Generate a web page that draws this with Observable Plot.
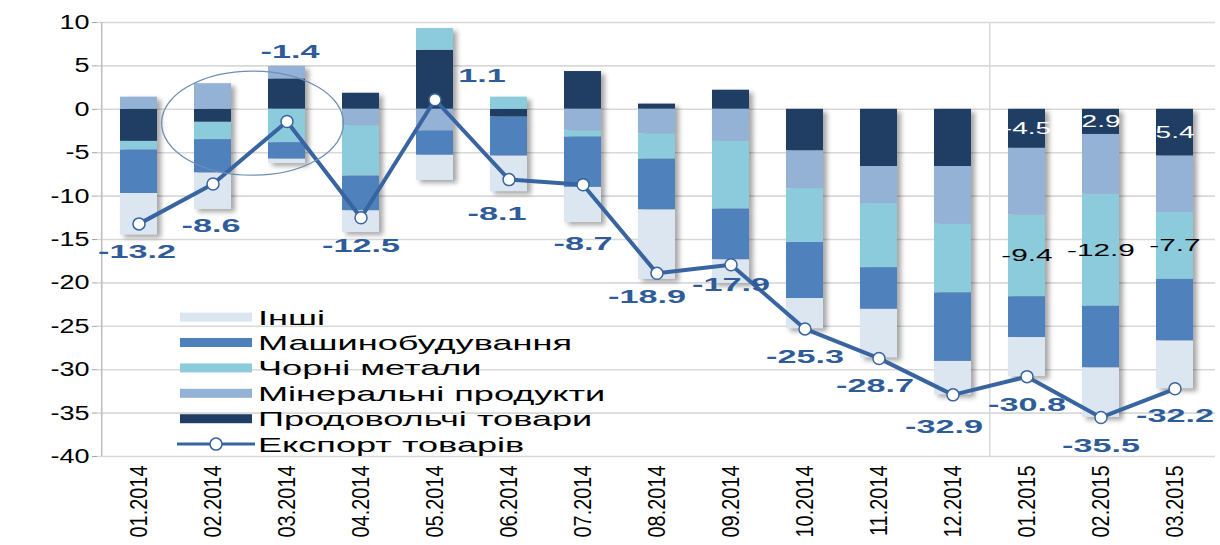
<!DOCTYPE html>
<html><head><meta charset="utf-8">
<script src="https://cdn.jsdelivr.net/npm/d3@7"></script>
<script src="https://cdn.jsdelivr.net/npm/@observablehq/plot@0.6"></script>
<style>
body{margin:0;background:#fff;}
#chart svg g[aria-label="bar"]{filter: drop-shadow(4px 3px 2.5px rgba(0,0,0,0.35));}
</style></head><body><div id="chart"></div>
<script>
// ---- data ----
const months = ["01.2014","02.2014","03.2014","04.2014","05.2014","06.2014","07.2014","08.2014","09.2014","10.2014","11.2014","12.2014","01.2015","02.2015","03.2015"];
const seriesNames = ["Продовольчі товари","Мінеральні продукти","Чорні метали","Машинобудування","Інші"];
const legendOrder = ["Інші","Машинобудування","Чорні метали","Мінеральні продукти","Продовольчі товари"];
const lineName = "Експорт товарів";
const food     = [-3.7, -1.5, 3.5, 1.85, 6.8, -0.9, 4.35, 0.6, 2.2, -4.8, -6.6, -6.6, -4.5, -2.9, -5.4];
const mineral  = [1.4, 2.95, 1.45, -1.9, -2.5, 0, -2.5, -2.85, -3.7, -4.35, -4.25, -6.65, -7.7, -6.9, -6.5];
const ferrous  = [-1.0, -2.0, -3.85, -5.8, 2.5, 1.4, -0.7, -2.9, -7.8, -6.2, -7.4, -7.9, -9.4, -12.9, -7.7];
const machine  = [-5.0, -3.85, -1.9, -4.0, -2.8, -4.5, -5.8, -5.85, -5.85, -6.45, -4.8, -7.9, -4.7, -7.1, -7.1];
const other    = [-4.8, -4.2, -0.5, -2.5, -2.9, -4.1, -4.05, -8.0, -2.75, -3.5, -5.6, -3.85, -4.5, -5.7, -5.5];
const exportsTotal = [-13.2, -8.6, -1.4, -12.5, 1.1, -8.1, -8.7, -18.9, -17.9, -25.3, -28.7, -32.9, -30.8, -35.5, -32.2];
const foodLabels    = ["","","","","","","","","","","","","-4.5","2.9","5.4"];
const ferrousLabels = ["","","","","","","","","","","","","-9.4","-12.9","-7.7"];
const yTicks = [-40,-35,-30,-25,-20,-15,-10,-5,0,5,10];

// ---- style / layout ----
const colors = ["#203d64","#94b1d6","#8ccbdb","#4f81bd","#dce6f1"];
const lineColor = "#3864a0", labelColor = "#2e5c99";
const W = 1220, H = 545, ML = 97, MR = 5, MT = 22, MB = 89;
const step = (W - ML - MR) / months.length;
const labelNudge = [[-2,28],[-2,42],[3,-70],[0,28],[47,-24],[-12,34],[0,59],[-10,24],[0,20],[0,28],[-4,27],[-9,32],[0,28],[0,28],[0,27]];

// ---- tables ----
const seriesValues = [food, mineral, ferrous, machine, other];
const rows = [];
months.forEach((m, i) => seriesNames.forEach((s, k) => rows.push({
  month: m, series: s, value: seriesValues[k][i],
  label: k === 0 ? (foodLabels[i] || null) : k === 2 ? (ferrousLabels[i] || null) : null
})));
const pts = months.map((m, i) => ({month: m, value: exportsTotal[i], text: exportsTotal[i].toFixed(1)}));

const stackOpts = {x: "month", y: "value", z: "series", order: seriesNames};

const plot = Plot.plot({
  width: W, height: H, marginLeft: ML, marginRight: MR, marginTop: MT, marginBottom: MB,
  style: {fontFamily: "Liberation Sans, Arial, sans-serif", fontSize: "20px", color: "#000", background: "#fff"},
  x: {domain: months, paddingInner: 0.5, paddingOuter: 0.25, label: null},
  y: {domain: [-40, 10], label: null},
  color: {domain: seriesNames, range: colors},
  marks: [
    Plot.gridY(yTicks, {stroke: "#d9d9d9", strokeOpacity: 1, strokeWidth: 1.6}),
    Plot.ruleX([months[0]], {dx: -step / 2, y1: -40, y2: 10, stroke: "#bfbfbf", strokeWidth: 1.6}),
    Plot.ruleX(["01.2015"], {dx: -step / 2, y1: -40, y2: 10, stroke: "#d9d9d9", strokeWidth: 1.6}),
    Plot.axisY(yTicks, {tickSize: 5, tickPadding: 3, stroke: "#a6a6a6", tickFormat: d => String(d), fontSize: 20}),
    Plot.axisX({tickRotate: -90, tickSize: 0, tickPadding: 9, fontSize: 24}),
    Plot.barY(rows, Plot.stackY({...stackOpts, fill: "series"})),
    Plot.text(rows, Plot.stackY({...stackOpts, text: d => d.series === seriesNames[0] ? d.label : null, fill: "white", fontSize: 16})),
    Plot.text(rows, Plot.stackY({...stackOpts, text: d => d.series === seriesNames[2] ? d.label : null, fill: "black", fontSize: 17})),
    Plot.line(pts, {x: "month", y: "value", stroke: lineColor, strokeWidth: 4}),
    Plot.dot(pts, {x: "month", y: "value", r: 6, fill: "white", stroke: lineColor, strokeWidth: 1.5}),
    ...pts.map((p, i) => Plot.text([p], {x: "month", y: "value", text: "text", dx: labelNudge[i][0], dy: labelNudge[i][1],
      fill: labelColor, fontWeight: "bold", fontSize: 19}))
  ]
});
document.getElementById("chart").appendChild(plot);

// ---- annotations: ellipse + legend (positioned with the plot's scales) ----
const xs = plot.scale("x"), ys = plot.scale("y");
const xBand = d3.scaleBand(xs.domain, xs.range).paddingInner(0.5).paddingOuter(0.25);
const xc = m => (xs.apply ? xs.apply(m) : xBand(m)) + (xs.bandwidth ?? xBand.bandwidth()) / 2;
const yv = v => ys.apply ? ys.apply(v) : d3.scaleLinear(ys.domain, ys.range)(v);
const svg = d3.select(plot);
const ann = svg.append("g");
ann.append("ellipse")
  .attr("cx", (xc(months[1]) + xc(months[2])) / 2 + 3)
  .attr("cy", yv(-1.65))
  .attr("rx", step * 1.22)
  .attr("ry", yv(-1.65) - yv(4.35))
  .attr("fill", "none").attr("stroke", "#6e8fb5").attr("stroke-width", 1.3);

const lg = svg.append("g").attr("font-family", "Liberation Sans, Arial, sans-serif").attr("font-size", 21).attr("text-anchor", "start");
const lx = ML + 80, ly0 = yv(-24), lstep = 25.4;
const legendItems = [...legendOrder, lineName];
legendItems.forEach((name, i) => {
  const y = ly0 + i * lstep;
  if (name === lineName) {
    lg.append("line").attr("x1", lx).attr("x2", lx + 78).attr("y1", y).attr("y2", y).attr("stroke", lineColor).attr("stroke-width", 3);
    lg.append("circle").attr("cx", lx + 39).attr("cy", y).attr("r", 6).attr("fill", "white").attr("stroke", lineColor).attr("stroke-width", 1.5);
  } else {
    lg.append("rect").attr("x", lx + 3).attr("y", y - 4.5).attr("width", 72).attr("height", 9)
      .attr("fill", colors[seriesNames.indexOf(name)]);
  }
  lg.append("text").attr("class", "lgtext").attr("text-anchor", "start").attr("x", lx + 81).attr("y", y).attr("dy", "0.36em").text(name);
});

// ---- glyph stretch to mimic the reference's wide lettering ----
function stretch(nodes, f) {
  nodes.forEach(n => {
    const w = n.getComputedTextLength();
    if (w > 0) { n.setAttribute("textLength", (w * f).toFixed(1)); n.setAttribute("lengthAdjust", "spacingAndGlyphs"); }
  });
}
stretch(plot.querySelectorAll('g[aria-label="y-axis tick label"] text'), 1.35);
stretch(plot.querySelectorAll('g[aria-label="x-axis tick label"] text'), 0.83);
stretch(plot.querySelectorAll('text.lgtext'), 1.72);
plot.querySelectorAll('g[aria-label="text"]').forEach(g => {
  const isLine = g.getAttribute("fill") === labelColor;
  stretch(g.querySelectorAll("text"), isLine ? 1.8 : 1.75);
});
</script></body></html>
